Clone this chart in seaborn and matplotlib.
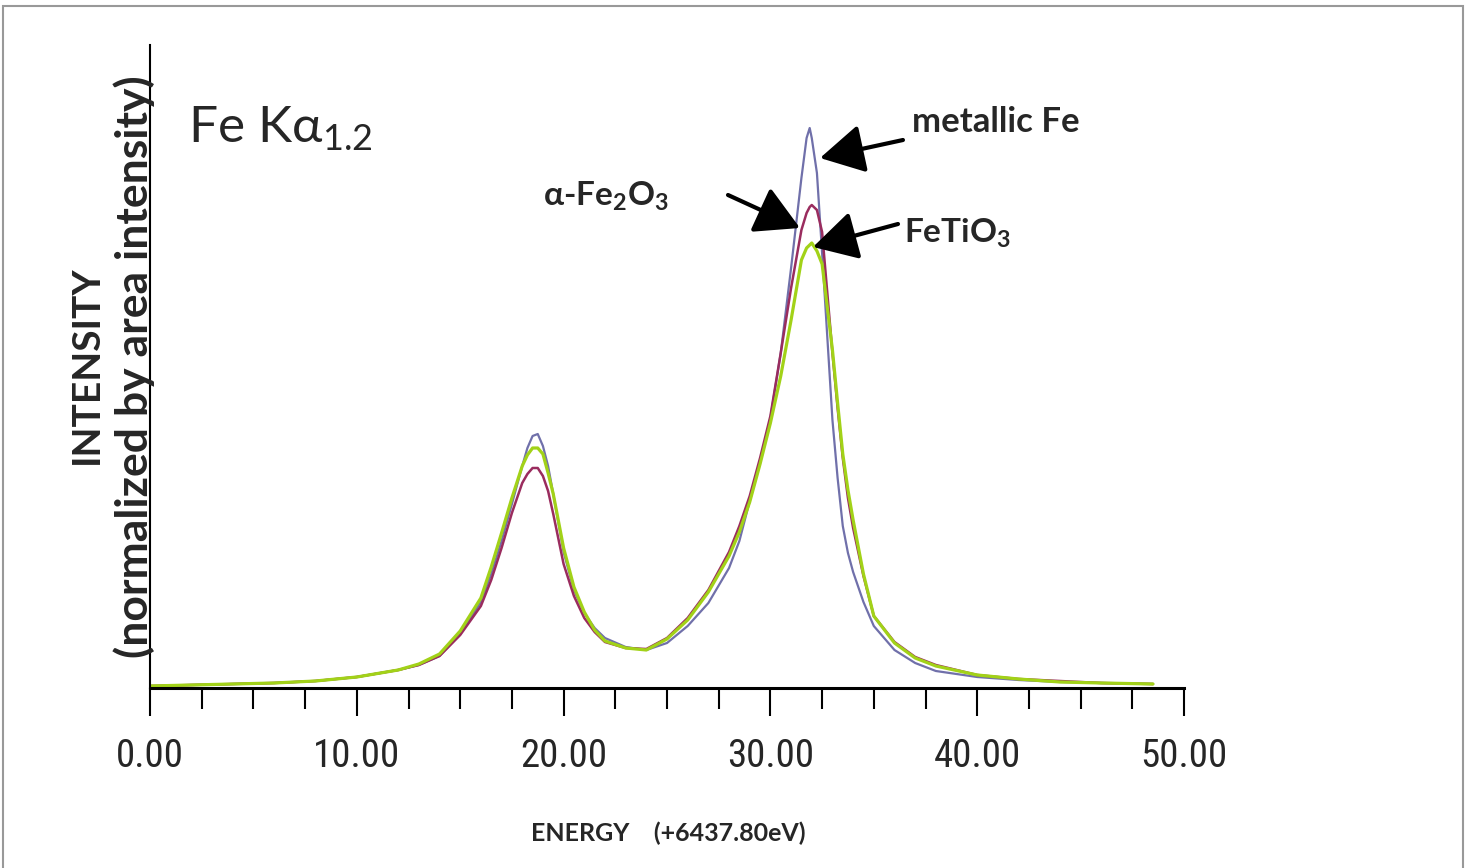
#%%

import pandas as pd
import seaborn as sns
import matplotlib.pyplot as plt
from matplotlib.patches import Rectangle
from matplotlib.ticker import MultipleLocator

# energia relativa (eV, +6437.80) e intensidade (unidades arbitrarias)
energia = [0, 2, 4, 6, 8, 10, 12, 13, 14, 15, 16, 16.5, 17, 17.5, 18, 18.25,
           18.5, 18.75, 19, 19.25, 19.5, 20, 20.5, 21, 21.5, 22, 23, 24, 25,
           26, 27, 28, 28.5, 29, 29.5, 30, 30.5, 31, 31.5, 31.75, 31.9, 32,
           32.25, 32.5, 33, 33.25, 33.5, 33.75, 34, 34.5, 35, 36, 37, 38, 40,
           42, 44, 46, 48.5]

metalico = [2, 3, 4, 5, 7, 11, 18, 23, 32, 54, 86, 114, 147, 184, 222, 240,
            252, 254, 242, 222, 194, 136, 98, 75, 60, 50, 41, 38, 45,
            62, 85, 120, 147, 187, 225, 270, 335, 420, 510, 550, 560, 550,
            515, 435, 268, 210, 162, 135, 116, 86, 62, 38, 25, 17, 11,
            8, 6, 5, 4]

hematita = [2, 3, 4, 5, 7, 11, 18, 23, 32, 53, 82, 108, 140, 175, 205, 214,
            220, 220, 212, 197, 174, 124, 92, 70, 56, 46, 40, 39, 50,
            70, 98, 136, 162, 192, 230, 272, 335, 400, 458, 475, 481, 483,
            478, 456, 335, 280, 230, 190, 160, 112, 72, 46, 31, 23, 13,
            9, 7, 5, 4]

ilmenita = [2, 3, 4, 5, 7, 11, 18, 24, 34, 57, 90, 121, 155, 190, 222, 233,
            240, 240, 234, 215, 194, 140, 101, 76, 58, 47, 40, 38, 49,
            68, 96, 132, 156, 186, 224, 265, 312, 368, 428, 440, 443, 445,
            437, 424, 338, 285, 234, 198, 168, 114, 72, 45, 30, 22, 13,
            9, 6, 5, 4]

ticks_x = [0, 10, 20, 30, 40, 50]

# %%

sns.set_style('white')
plt.rcParams['font.family'] = ['Lato', 'DejaVu Sans']
plt.rcParams['mathtext.fontset'] = 'custom'
plt.rcParams['mathtext.rm'] = 'Lato:bold'
plt.rcParams['mathtext.sf'] = 'Lato'

fig = plt.figure(figsize=(14.67, 8.68), dpi=100)
ax = fig.add_axes([150/1467, 180/868, 1034/1467, 643/868])

curvas = [
    (metalico, '#7070aa', 1.6),
    (hematita, '#9a2c5e', 1.8),
    (ilmenita, '#a2d218', 2.3),
]
for valores, cor, lw in curvas:
    sns.lineplot(x=energia, y=valores, color=cor, linewidth=lw, ax=ax)

ax.set_xlim(0, 50)
ax.set_ylim(0, 643)
ax.set_yticks([])
ax.set_xticks(ticks_x)
ax.set_xticklabels([f'{t:.2f}' for t in ticks_x],
                   family=['Roboto Condensed', 'DejaVu Sans Condensed', 'Roboto'],
                   fontsize=28)
ax.xaxis.set_minor_locator(MultipleLocator(2.5))
ax.tick_params(axis='x', which='major', length=20, width=1.5,
               color='black', pad=16, bottom=True)
ax.tick_params(axis='x', which='minor', length=15, width=1.5,
               color='black', bottom=True)

for lado in ['top', 'right']:
    ax.spines[lado].set_visible(False)
ax.spines['bottom'].set_linewidth(2.2)
ax.spines['left'].set_linewidth(1.5)
ax.spines['bottom'].set_color('black')
ax.spines['left'].set_color('black')
ax.set_xlabel('')
ax.set_ylabel('')

# titulo dentro do grafico
ax.text(1.84, 545, 'Fe Kα$_{\\mathsf{1.2}}$', fontsize=37,
        ha='left', va='baseline')

# setas e rotulos
seta = dict(arrowstyle='-|>,head_length=0.9,head_width=0.5', lw=3,
            color='black', mutation_scale=30, shrinkA=0, shrinkB=0)
ax.annotate('', xy=(32.40, 530), xytext=(36.41, 548), arrowprops=seta)
ax.annotate('', xy=(31.43, 460), xytext=(27.95, 493), arrowprops=seta)
ax.annotate('', xy=(32.06, 441), xytext=(36.17, 464), arrowprops=seta)

ax.text(36.85, 566, 'metallic Fe', fontsize=25, fontweight='bold',
        ha='left', va='center')
ax.text(19.0, 492, 'α-Fe$_2$O$_3$', fontsize=24, fontweight='bold',
        ha='left', va='center')
ax.text(36.45, 455, 'FeTiO$_3$', fontsize=24, fontweight='bold',
        ha='left', va='center')

fig.text(86/1467, 1 - 365/868, 'INTENSITY', rotation=90, fontsize=28,
         fontweight='bold', ha='center', va='center')
fig.text(134/1467, 1 - 367/868, '(normalized by area intensity)', rotation=90,
         fontsize=32, fontweight='bold', ha='center', va='center')
fig.text(668/1467, 1 - 833/868, 'ENERGY    (+6437.80eV)', fontsize=18,
         fontweight='bold', ha='center', va='center')

# moldura cinza
fig.patches.append(Rectangle((3/1467, -0.01), 1460/1467, 1 - 6/868 + 0.01,
                             transform=fig.transFigure, fill=False,
                             edgecolor='#999999', linewidth=1.5))

plt.savefig('out.png', dpi=100)
